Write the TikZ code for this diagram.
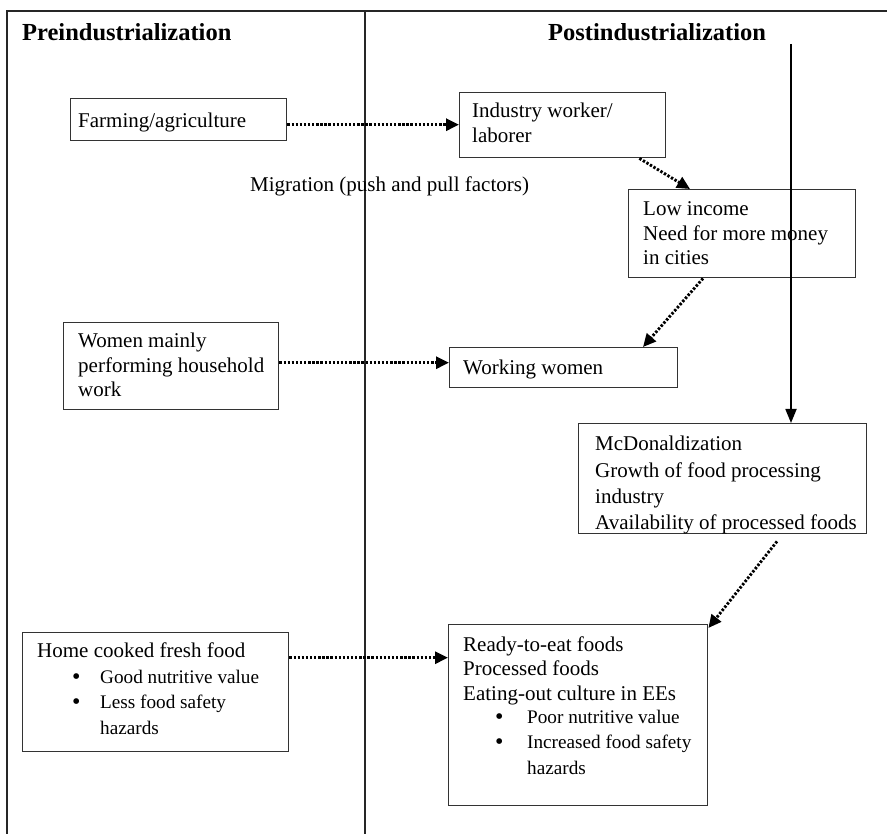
\documentclass[tikz,border=0pt]{standalone}
\usepackage{fontspec}
\setmainfont{Liberation Serif}
\usetikzlibrary{arrows.meta}
% stacked lines whose baseline is that of the first line
\newcommand\linestack[1]{\vtop{#1}}
\newcommand\textline[1]{\hbox{#1}}
\newcommand\bigbullet{\hbox{\fontsize{24}{24.5}\selectfont\raisebox{-1pt}{•}}}
\begin{document}
\begin{tikzpicture}[x=1pt,y=-1pt,
  frame/.style={draw=black!85, line width=1.3pt},
  box/.style={draw=black!80, line width=1.4pt, inner sep=0pt, anchor=north west},
  txt/.style={font=\fontsize{21}{24.5}\selectfont, inner sep=0pt, anchor=base west},
  itemtxt/.style={txt, font=\fontsize{19.2}{25.5}\selectfont},
  head/.style={font=\fontsize{24.5}{28}\selectfont\bfseries, inner sep=0pt, anchor=base west},
  dots/.style={line width=2.9pt, dash pattern=on 2.4pt off 1.7pt, -{Triangle[length=13pt,width=12pt]}},
  flow/.style={line width=1.8pt, -{Triangle[length=14pt,width=11pt]}}
]
\useasboundingbox (0,0) rectangle (887,834);
\fill[white] (0,0) rectangle (887,834);

% outer frame and column divider
\draw[frame] (7,834) -- (7,11) -- (887,11);
\draw[frame] (365,11) -- (365,834);

% column headings
\node[head] (pre) at (22,41) {Preindustrialization};
\node[head] (post) at (548,41) {Postindustrialization};

% boxes
\node[box, minimum width=216pt, minimum height=42pt] (farm) at (70,98) {};
\node[box, minimum width=206pt, minimum height=65pt] (ind) at (459,92) {};
\node[box, minimum width=227pt, minimum height=88pt] (low) at (628,189) {};
\node[box, minimum width=215pt, minimum height=87pt] (women) at (63,322) {};
\node[box, minimum width=228pt, minimum height=40pt] (work) at (449,347) {};
\node[box, minimum width=288pt, minimum height=110pt] (mcd) at (578,423) {};
\node[box, minimum width=266pt, minimum height=119pt] (home) at (22,632) {};
\node[box, minimum width=259pt, minimum height=181pt] (ready) at (448,624) {};

% box texts
\node[txt] (farmtxt) at (78,128) {Farming/agriculture};
\node[txt] (indtxt) at (472,118) {\linestack{\textline{Industry worker/}\textline{laborer}}};
\node[txt] (migr) at (250,192) {Migration (push and pull factors)};
\node[txt] (lowtxt) at (643,216) {\linestack{\textline{Low income}\textline{Need for more money}\textline{in cities}}};
\node[txt] (womentxt) at (78,348) {\linestack{\textline{Women mainly}\textline{performing household}\textline{work}}};
\node[txt] (worktxt) at (463,375) {Working women};
\begin{scope}
  \clip (mcd.south west) rectangle (mcd.north east);
  \node[txt, font=\fontsize{21}{26}\selectfont] (mcdtxt) at (595,451)
    {\linestack{\textline{McDonaldization}\textline{Growth of food processing}\textline{industry}\textline{Availability of processed foods}}};
\end{scope}
\node[txt] (hometxt) at (37,657) {Home cooked fresh food};
\node[itemtxt] (homebul) at (72,683) {\linestack{\bigbullet\bigbullet}};
\node[itemtxt] (homeitems) at (100,683) {\linestack{\textline{Good nutritive value}\textline{Less food safety}\textline{hazards}}};
\node[txt] (readytxt) at (463,651) {\linestack{\textline{Ready-to-eat foods}\textline{Processed foods}\textline{Eating-out culture in EEs}}};
\node[itemtxt] (readybul) at (495,723) {\linestack{\bigbullet\bigbullet}};
\node[itemtxt] (readyitems) at (527,723) {\linestack{\textline{Poor nutritive value}\textline{Increased food safety}\textline{hazards}}};

% connectors
\coordinate (vtop) at (791,44);
\draw[flow] (vtop) -- (vtop |- mcd.north);
\draw[dots] ([yshift=-5pt]farm.east) -- ([yshift=-5pt]farm.east -| ind.west);
\draw[dots] ([xshift=-27pt]ind.south east) -- ([xshift=62pt]low.north west);
\draw[dots] ([xshift=75pt]low.south west) -- ([xshift=194pt]work.north west);
\draw[dots] ([yshift=3.5pt]women.east) -- ([yshift=3.5pt]women.east -| work.west);
\draw[dots] ([xshift=199pt,yshift=-7pt]mcd.south west) -- ([yshift=-4pt]ready.north east);
\draw[dots] ([yshift=34.5pt]home.east) -- ([yshift=34.5pt]home.east -| ready.west);
\end{tikzpicture}
\end{document}
